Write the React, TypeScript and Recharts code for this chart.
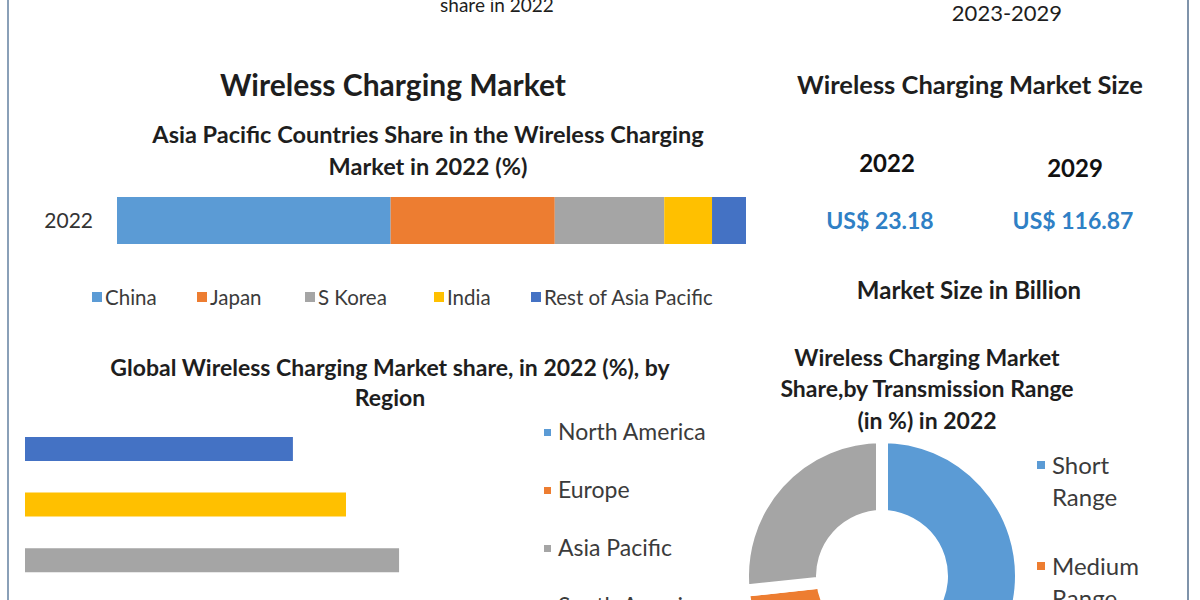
import React from "react";
import { BarChart, Bar, XAxis, YAxis, PieChart, Pie, Cell } from "recharts";

// Asia Pacific countries share, 2022 (%)
const apacYears = ["2022"];
const apacCountries = ["China", "Japan", "S Korea", "India", "Rest of Asia Pacific"];
const apacShare = [43.5, 26.1, 17.4, 7.6, 5.4];
const apacColors = ["#5B9BD5", "#ED7D31", "#A5A5A5", "#FFC000", "#4472C4"];

// Global share by region, 2022 (%) - legend order (first = bottom bar)
const regions = ["North America", "Europe", "Asia Pacific", "South America", "Middle East & Africa"];
const regionShare = [35, 26.9, 14.8, 12.7, 10.6];
const regionColors = ["#5B9BD5", "#ED7D31", "#A5A5A5", "#FFC000", "#4472C4"];

// Share by transmission range, 2022 (%)
const ranges = ["Short Range", "Medium Range", "Long Range"];
const rangeShare = [53, 20.3, 26.7];
const rangeColors = ["#5B9BD5", "#ED7D31", "#A5A5A5"];

const FONT = "Lato, 'Open Sans', sans-serif";
const DARK = "#1e1e1e";
const LEGEND = "#3b3b3b";
const BLUE_VALUE = "#2F80C5";

const apacData = apacYears.map((year) => {
    const row: any = { year };
    apacCountries.forEach((c, i) => (row[c] = apacShare[i]));
    return row;
});

const regionData = regions.map((name, i) => ({ name, value: regionShare[i] }));
const rangeData = ranges.map((name, i) => ({ name, value: rangeShare[i] }));

type TxtProps = {
    x: number;
    y: number;
    size: number;
    bold?: boolean;
    color?: string;
    align?: "center" | "left";
    children: React.ReactNode;
};

// y is the vertical middle of the line, x is the centre (or left edge)
const Txt = ({ x, y, size, bold, color = DARK, align = "center", children }: TxtProps) => {
    const lh = Math.round(size * 1.3);
    const w = 800;
    return (
        <div
            style={{
                position: "absolute",
                left: align === "center" ? x - w / 2 : x,
                top: y - lh / 2,
                width: w,
                height: lh,
                lineHeight: `${lh}px`,
                fontSize: size,
                fontWeight: bold ? 700 : 400,
                color,
                textAlign: align,
                whiteSpace: "nowrap",
            }}
        >
            {children}
        </div>
    );
};

const Swatch = ({ x, y, size, color }: { x: number; y: number; size: number; color: string }) => (
    <div style={{ position: "absolute", left: x, top: y - size / 2, width: size, height: size, background: color }} />
);

export default function App() {
    return (
        <div
            style={{
                position: "fixed",
                left: 0,
                top: 0,
                width: 1200,
                height: 600,
                overflow: "hidden",
                background: "#fff",
                fontFamily: FONT,
            }}
        >
            {/* frame */}
            <div style={{ position: "absolute", left: 7, top: 0, width: 2, height: 600, background: "#8aa0b8" }} />
            <div style={{ position: "absolute", left: 1187, top: 0, width: 2, height: 600, background: "#7f93aa" }} />

            {/* cut-off captions from the panel above */}
            <Txt x={497} y={4} size={19}>share in 2022</Txt>
            <Txt x={1007} y={12} size={22}>2023-2029</Txt>

            {/* top-left panel */}
            <Txt x={393} y={84} size={30} bold>Wireless Charging Market</Txt>
            <Txt x={428} y={134} size={23.5} bold>Asia Pacific Countries Share in the Wireless Charging</Txt>
            <Txt x={428} y={166} size={23.5} bold>Market in 2022 (%)</Txt>

            <div style={{ position: "absolute", left: 0, top: 180 }}>
                <BarChart
                    width={760}
                    height={70}
                    data={apacData}
                    layout="vertical"
                    margin={{ top: 17, right: 14, bottom: 6, left: 0 }}
                    barCategoryGap={0}
                >
                    <XAxis type="number" hide domain={[0, 100]} />
                    <YAxis
                        type="category"
                        dataKey="year"
                        width={117}
                        axisLine={false}
                        tickLine={false}
                        tickSize={0}
                        tickMargin={24}
                        tick={{ fill: "#333", fontSize: 21, fontFamily: FONT }}
                    />
                    {apacCountries.map((c, i) => (
                        <Bar key={c} dataKey={c} stackId="a" fill={apacColors[i]} isAnimationActive={false} />
                    ))}
                </BarChart>
            </div>

            {/* APAC legend */}
            {apacCountries.map((c, i) => {
                const xs = [92, 197, 305, 434, 531];
                return (
                    <React.Fragment key={c}>
                        <Swatch x={xs[i]} y={297} size={10} color={apacColors[i]} />
                        <Txt x={xs[i] + 13} y={297} size={20.5} color={LEGEND} align="left">{c}</Txt>
                    </React.Fragment>
                );
            })}

            {/* top-right panel */}
            <Txt x={970} y={84} size={25.5} bold>Wireless Charging Market Size</Txt>
            <Txt x={887} y={162} size={24} bold color="#111">2022</Txt>
            <Txt x={1075} y={167} size={24} bold color="#111">2029</Txt>
            <Txt x={880} y={220} size={23} bold color={BLUE_VALUE}>US$ 23.18</Txt>
            <Txt x={1073} y={220} size={23} bold color={BLUE_VALUE}>US$ 116.87</Txt>
            <Txt x={969} y={289} size={24} bold>Market Size in Billion</Txt>

            {/* bottom-left panel */}
            <Txt x={390} y={367} size={23} bold>Global Wireless Charging Market share, in 2022 (%), by</Txt>
            <Txt x={390} y={397} size={23} bold>Region</Txt>

            <div style={{ position: "absolute", left: 0, top: 400 }}>
                <BarChart
                    width={1041}
                    height={304}
                    data={regionData}
                    layout="vertical"
                    margin={{ top: 21, right: 5, bottom: 5, left: 25 }}
                    barSize={24}
                >
                    <XAxis type="number" hide domain={[0, 40]} />
                    <YAxis type="category" dataKey="name" hide reversed />
                    <Bar dataKey="value" isAnimationActive={false}>
                        {regionData.map((d, i) => (
                            <Cell key={d.name} fill={regionColors[i]} />
                        ))}
                    </Bar>
                </BarChart>
            </div>

            {regions.map((r, i) => (
                <React.Fragment key={r}>
                    <Swatch x={544} y={432 + i * 58} size={7} color={regionColors[i]} />
                    <Txt x={558} y={431 + i * 58} size={23} color={LEGEND} align="left">{r}</Txt>
                </React.Fragment>
            ))}

            {/* bottom-right panel */}
            <Txt x={927} y={357} size={23} bold>Wireless Charging Market</Txt>
            <Txt x={927} y={388} size={23} bold>Share,by Transmission Range</Txt>
            <Txt x={927} y={420} size={23} bold>(in %) in 2022</Txt>

            <div style={{ position: "absolute", left: 727, top: 421 }}>
                <PieChart width={300} height={300}>
                    <Pie
                        data={rangeData}
                        dataKey="value"
                        nameKey="name"
                        cx={150}
                        cy={150}
                        innerRadius={60}
                        outerRadius={139}
                        startAngle={90}
                        endAngle={-270}
                        stroke="#fff"
                        strokeWidth={12}
                        isAnimationActive={false}
                    >
                        {rangeData.map((d, i) => (
                            <Cell key={d.name} fill={rangeColors[i]} />
                        ))}
                    </Pie>
                </PieChart>
            </div>

            {ranges.map((r, i) => {
                const [first, second] = r.split(" ");
                const y0 = 464 + i * 101;
                return (
                    <React.Fragment key={r}>
                        <Swatch x={1037} y={y0 + 1} size={8} color={rangeColors[i]} />
                        <Txt x={1052} y={y0} size={24} color={LEGEND} align="left">{first}</Txt>
                        <Txt x={1052} y={y0 + 32} size={24} color={LEGEND} align="left">{second}</Txt>
                    </React.Fragment>
                );
            })}
        </div>
    );
}
